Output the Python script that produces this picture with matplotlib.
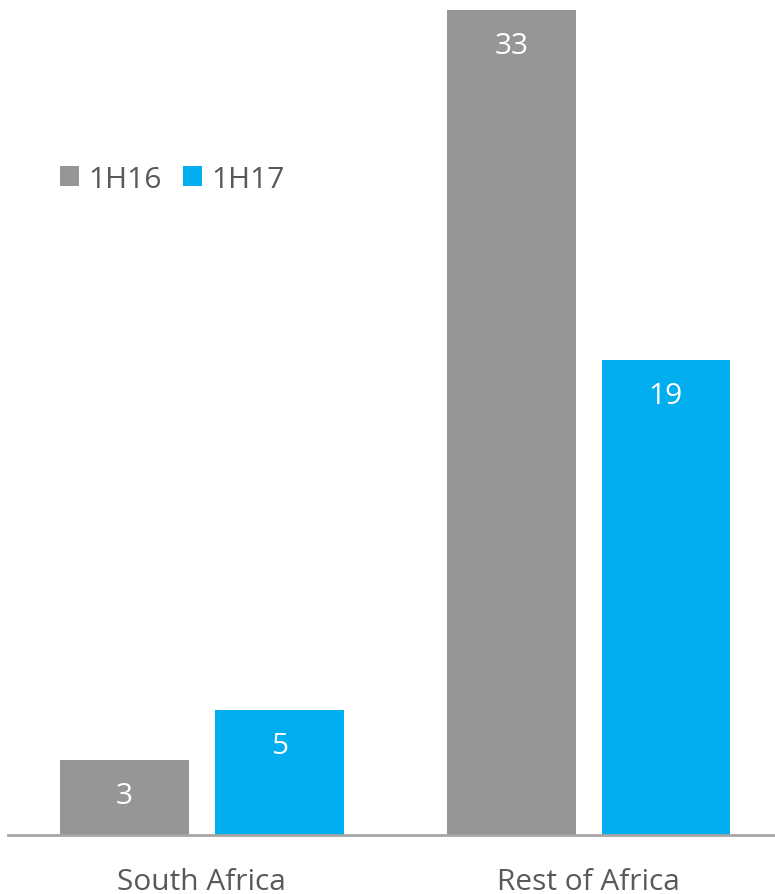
import numpy as np
import matplotlib.pyplot as plt

plt.rcParams['font.family'] = ['Open Sans', 'DejaVu Sans']

regions = ['South Africa', 'Rest of Africa']
periods = ['1H16', '1H17']
values_1h16 = [3, 33]
values_1h17 = [5, 19]
colors = ['#969696', '#00aeef']
text_color = '#595959'

W, H = 775, 895
fig = plt.figure(figsize=(W / 100, H / 100), dpi=100)
ax = fig.add_axes([8 / W, 59 / H, 767 / W, 825 / H])

x = np.arange(len(regions))
width = 0.333
offset = 0.2
fs = 21.5

bars = []
for i, (vals, label) in enumerate(zip([values_1h16, values_1h17], periods)):
    b = ax.bar(x + (i * 2 - 1) * offset, vals, width, color=colors[i], label=label)
    bars.append(b)
    for rect, v in zip(b, vals):
        ax.annotate(str(v), (rect.get_x() + rect.get_width() / 2, v),
                    xytext=(0, -36 * 0.72), textcoords='offset points',
                    ha='center', va='center', color='white', fontsize=fs)

for xi, name in zip(x, regions):
    ax.annotate(name, (xi, 0), xytext=(0, -47 * 0.72), textcoords='offset points',
                ha='center', va='center', color=text_color, fontsize=fs,
                annotation_clip=False)

ax.set_xlim(-0.501, 1.482)
ax.set_ylim(0, 33)
for s in ['top', 'right', 'left']:
    ax.spines[s].set_visible(False)
ax.spines['bottom'].set_color('#a6a6a6')
ax.spines['bottom'].set_linewidth(2)
ax.set_xticks([])
ax.set_yticks([])

fig.legend(handles=bars, loc='center left', bbox_to_anchor=(60 / W, 1 - 180 / H),
           ncol=2, frameon=False, fontsize=fs, handlelength=0.63, handleheight=0.63,
           handletextpad=0.33, columnspacing=0.7, borderpad=0, borderaxespad=0,
           labelcolor=text_color)

fig.savefig('out.png', dpi=100, facecolor='white')
